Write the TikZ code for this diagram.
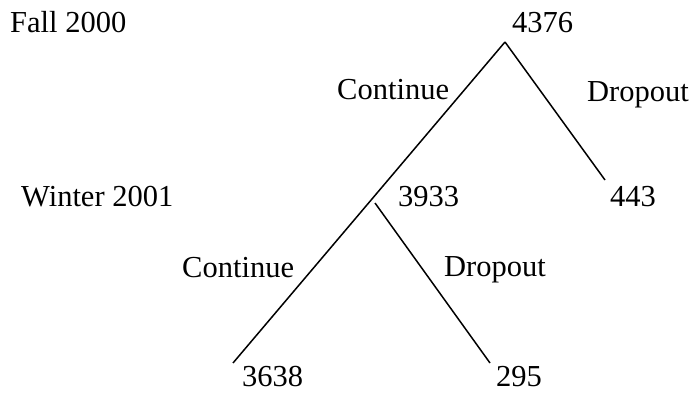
\documentclass[tikz,border=0pt]{standalone}
\usepackage{fontspec}
\setmainfont{Liberation Serif}
\begin{document}
\begin{tikzpicture}[x=1pt,y=-1pt,
  lbl/.style={inner sep=0pt,anchor=base west,font=\fontsize{30.5}{36}\selectfont},
  branch/.style={line width=1.5pt}]
\useasboundingbox (0,0) rectangle (696,395);
\node[lbl] (fall) at (10,33) {Fall 2000};
\node[lbl] (winter) at (21,207) {Winter 2001};
\node[lbl] (n4376) at (512,33) {4376};
\node[lbl] (c1) at (337,100) {Continue};
\node[lbl] (d1) at (587,102) {Dropout};
\node[lbl] (n3933) at (398,207) {3933};
\node[lbl] (n443) at (610,207) {443};
\node[lbl] (c2) at (182,278) {Continue};
\node[lbl] (d2) at (444,277) {Dropout};
\node[lbl] (n3638) at (242,386) {3638};
\node[lbl] (n295) at (496,386) {295};
\coordinate (top) at (505,42);
\coordinate (rend) at (605,180);
\coordinate (lend) at (233,363);
\coordinate (mid) at (375,203);
\coordinate (dend) at (490,363);
\draw[branch] (top) -- (rend);
\draw[branch] (top) -- (lend);
\draw[branch] (mid) -- (dend);
\end{tikzpicture}
\end{document}
